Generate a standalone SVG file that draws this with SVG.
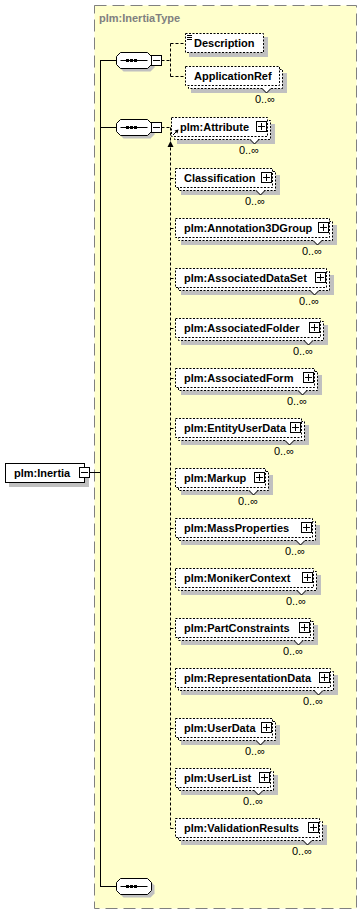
<svg xmlns="http://www.w3.org/2000/svg" width="363" height="915" viewBox="0 0 363 915">
<style>
.bg{fill:#ffffcc;stroke:#808080;stroke-width:1;stroke-dasharray:12,6}
.ttl{font-family:"Liberation Sans",Arial,sans-serif;font-weight:bold;font-size:11px;fill:#808080}
.t{font-family:"Liberation Sans",Arial,sans-serif;font-weight:bold;font-size:11px;fill:#000}
.m{font-family:"Liberation Sans",Arial,sans-serif;font-size:11px;fill:#000;text-anchor:end}
.sh{fill:#c0c0c0;stroke:none}
.fb{fill:#fff;stroke:#000;stroke-width:1;stroke-dasharray:2,1.5}
.sb{fill:#fff;stroke:#000;stroke-width:1}
.ln{stroke:#000;stroke-width:1;fill:none}
.dl{stroke:#000;stroke-width:1;fill:none;stroke-dasharray:3,2}
.ic{fill:#fff;stroke:#000;stroke-width:1}
.nf{fill:#fff;stroke:none}
</style>
<defs>
<path id="oct" d="M4,0 H31 L35,4 V12 L31,16 H4 L0,12 V4 Z"/>
<g id="seqin">
<line class="ln" x1="4" y1="8" x2="31" y2="8"/>
<rect x="9.5" y="6.5" width="3" height="3" fill="#000"/>
<rect x="13.5" y="6.5" width="3" height="3" fill="#000"/>
<rect x="17.5" y="6.5" width="3" height="3" fill="#000"/>
</g>
<g id="plus">
<rect class="ic" x="0" y="0" width="10" height="10"/>
<line class="ln" x1="1.5" y1="5" x2="8.5" y2="5"/>
<line class="ln" x1="5" y1="1.5" x2="5" y2="8.5"/>
</g>
<g id="minus">
<rect class="ic" x="0" y="0" width="10" height="10"/>
<line class="ln" x1="1.5" y1="5" x2="8.5" y2="5"/>
</g>
<g id="notch">
<polygon class="nf" points="-4,-0.5 4,-0.5 0,4"/>
<polyline class="ln" points="-4.5,0 0,4.5 4.5,0"/>
</g>
</defs>

<rect class="bg" x="94.5" y="5.5" width="262" height="903"/>
<text class="ttl" x="99" y="22">plm:InertiaType</text>

<g id="connectors">
<line class="ln" x1="89.5" y1="472.5" x2="100.5" y2="472.5"/>
<line class="ln" x1="100.5" y1="60.5" x2="100.5" y2="886.5"/>
<line class="ln" x1="100" y1="60.5" x2="116.5" y2="60.5"/>
<line class="ln" x1="100" y1="127.5" x2="116.5" y2="127.5"/>
<line class="ln" x1="100" y1="886.5" x2="116.5" y2="886.5"/>
<line class="dl" x1="161.5" y1="60.5" x2="170.5" y2="60.5"/>
<line class="dl" x1="170.5" y1="43.5" x2="170.5" y2="76.5"/>
<line class="dl" x1="170.5" y1="43.5" x2="185.5" y2="43.5"/>
<line class="dl" x1="170.5" y1="76.5" x2="185.5" y2="76.5"/>
<line class="dl" x1="161.5" y1="127.5" x2="171.5" y2="127.5"/>
<line class="dl" x1="170.5" y1="127.5" x2="170.5" y2="828.5"/>
<polygon points="170.5,141 167.5,147 173.5,147" fill="#000"/>
<line class="dl" x1="170.5" y1="178.5" x2="175.5" y2="178.5"/>
<line class="dl" x1="170.5" y1="228.5" x2="175.5" y2="228.5"/>
<line class="dl" x1="170.5" y1="278.5" x2="175.5" y2="278.5"/>
<line class="dl" x1="170.5" y1="328.5" x2="175.5" y2="328.5"/>
<line class="dl" x1="170.5" y1="378.5" x2="175.5" y2="378.5"/>
<line class="dl" x1="170.5" y1="428.5" x2="175.5" y2="428.5"/>
<line class="dl" x1="170.5" y1="478.5" x2="175.5" y2="478.5"/>
<line class="dl" x1="170.5" y1="528.5" x2="175.5" y2="528.5"/>
<line class="dl" x1="170.5" y1="578.5" x2="175.5" y2="578.5"/>
<line class="dl" x1="170.5" y1="628.5" x2="175.5" y2="628.5"/>
<line class="dl" x1="170.5" y1="678.5" x2="175.5" y2="678.5"/>
<line class="dl" x1="170.5" y1="728.5" x2="175.5" y2="728.5"/>
<line class="dl" x1="170.5" y1="778.5" x2="175.5" y2="778.5"/>
<line class="dl" x1="170.5" y1="828.5" x2="175.5" y2="828.5"/>
</g>

<g id="n-inertia">
<rect class="sh" x="9" y="467" width="80" height="20"/>
<rect class="sb" x="5.5" y="463.5" width="79" height="19"/>
<text class="t" x="14" y="477">plm:Inertia</text>
<use href="#minus" x="79.5" y="467.5"/>
</g>

<g id="seq1">
<use href="#oct" class="sh" x="119.5" y="55.5"/>
<use href="#oct" class="sb" x="116.5" y="52.5"/>
<use href="#seqin" x="116.5" y="52.5"/>
<use href="#minus" x="151.5" y="55.5"/>
</g>

<g id="seq2">
<use href="#oct" class="sh" x="119.5" y="122.5"/>
<use href="#oct" class="sb" x="116.5" y="119.5"/>
<use href="#seqin" x="116.5" y="119.5"/>
<use href="#minus" x="151.5" y="122.5"/>
</g>

<g id="seq3">
<use href="#oct" class="sh" x="119.5" y="881.5"/>
<use href="#oct" class="sb" x="116.5" y="878.5"/>
<use href="#seqin" x="116.5" y="878.5"/>
</g>

<g id="n-description">
<rect class="sh" x="189" y="37" width="79" height="20"/>
<rect class="fb" x="185.5" y="33.5" width="78" height="19"/>
<line class="ln" x1="187" y1="35.5" x2="192" y2="35.5"/>
<line class="ln" x1="187" y1="37.5" x2="192" y2="37.5"/>
<line class="ln" x1="187" y1="39.5" x2="192" y2="39.5"/>
<text class="t" x="194" y="47">Description</text>
</g>

<g id="n-applicationref">
<rect class="sh" x="191" y="73" width="96" height="20"/>
<rect class="fb" x="188.5" y="69.5" width="94" height="19"/>
<use href="#notch" x="266.5" y="88.5"/>
<rect class="fb" x="185.5" y="66.5" width="94" height="19"/>
<text class="t" x="194" y="80">ApplicationRef</text>
<text class="m" x="275" y="103">0..∞</text>
</g>

<g id="n-attribute">
<rect class="sh" x="177" y="124" width="98" height="20"/>
<rect class="fb" x="174.5" y="120.5" width="96" height="19"/>
<use href="#notch" x="254.5" y="139.5"/>
<rect class="fb" x="171.5" y="117.5" width="96" height="19"/>
<text class="t" x="180" y="131">plm:Attribute</text>
<use href="#plus" x="256.5" y="121.5"/>
<line class="ln" x1="173" y1="135" x2="176.5" y2="131.5"/>
<polygon points="178.5,129.5 174.5,130.5 177.5,133.5" fill="#000"/>
<text class="m" x="259" y="154">0..∞</text>
</g>

<g id="n-classification">
<rect class="sh" x="181" y="175" width="99" height="20"/>
<rect class="fb" x="178.5" y="171.5" width="97" height="19"/>
<use href="#notch" x="260.5" y="190.5"/>
<rect class="fb" x="175.5" y="168.5" width="97" height="19"/>
<text class="t" x="184" y="182">Classification</text>
<use href="#plus" x="261.5" y="172.5"/>
<text class="m" x="265" y="205">0..∞</text>
</g>

<g id="n-annotation3dgroup">
<rect class="sh" x="181" y="225" width="156" height="20"/>
<rect class="fb" x="178.5" y="221.5" width="154" height="19"/>
<use href="#notch" x="317.5" y="240.5"/>
<rect class="fb" x="175.5" y="218.5" width="154" height="19"/>
<text class="t" x="184" y="232">plm:Annotation3DGroup</text>
<use href="#plus" x="318.5" y="222.5"/>
<text class="m" x="322" y="255">0..∞</text>
</g>

<g id="n-associateddataset">
<rect class="sh" x="181" y="275" width="153" height="20"/>
<rect class="fb" x="178.5" y="271.5" width="151" height="19"/>
<use href="#notch" x="314.5" y="290.5"/>
<rect class="fb" x="175.5" y="268.5" width="151" height="19"/>
<text class="t" x="184" y="282">plm:AssociatedDataSet</text>
<use href="#plus" x="315.5" y="272.5"/>
<text class="m" x="319" y="305">0..∞</text>
</g>

<g id="n-associatedfolder">
<rect class="sh" x="181" y="325" width="147" height="20"/>
<rect class="fb" x="178.5" y="321.5" width="145" height="19"/>
<use href="#notch" x="308.5" y="340.5"/>
<rect class="fb" x="175.5" y="318.5" width="145" height="19"/>
<text class="t" x="184" y="332">plm:AssociatedFolder</text>
<use href="#plus" x="309.5" y="322.5"/>
<text class="m" x="313" y="355">0..∞</text>
</g>

<g id="n-associatedform">
<rect class="sh" x="181" y="375" width="141" height="20"/>
<rect class="fb" x="178.5" y="371.5" width="139" height="19"/>
<use href="#notch" x="302.5" y="390.5"/>
<rect class="fb" x="175.5" y="368.5" width="139" height="19"/>
<text class="t" x="184" y="382">plm:AssociatedForm</text>
<use href="#plus" x="303.5" y="372.5"/>
<text class="m" x="307" y="405">0..∞</text>
</g>

<g id="n-entityuserdata">
<rect class="sh" x="181" y="425" width="128" height="20"/>
<rect class="fb" x="178.5" y="421.5" width="126" height="19"/>
<use href="#notch" x="289.5" y="440.5"/>
<rect class="fb" x="175.5" y="418.5" width="126" height="19"/>
<text class="t" x="184" y="432">plm:EntityUserData</text>
<use href="#plus" x="290.5" y="422.5"/>
<text class="m" x="294" y="455">0..∞</text>
</g>

<g id="n-markup">
<rect class="sh" x="181" y="475" width="92" height="20"/>
<rect class="fb" x="178.5" y="471.5" width="90" height="19"/>
<use href="#notch" x="253.5" y="490.5"/>
<rect class="fb" x="175.5" y="468.5" width="90" height="19"/>
<text class="t" x="184" y="482">plm:Markup</text>
<use href="#plus" x="254.5" y="472.5"/>
<text class="m" x="258" y="505">0..∞</text>
</g>

<g id="n-massproperties">
<rect class="sh" x="181" y="525" width="139" height="20"/>
<rect class="fb" x="178.5" y="521.5" width="137" height="19"/>
<use href="#notch" x="300.5" y="540.5"/>
<rect class="fb" x="175.5" y="518.5" width="137" height="19"/>
<text class="t" x="184" y="532">plm:MassProperties</text>
<use href="#plus" x="301.5" y="522.5"/>
<text class="m" x="305" y="555">0..∞</text>
</g>

<g id="n-monikercontext">
<rect class="sh" x="181" y="575" width="140" height="20"/>
<rect class="fb" x="178.5" y="571.5" width="138" height="19"/>
<use href="#notch" x="301.5" y="590.5"/>
<rect class="fb" x="175.5" y="568.5" width="138" height="19"/>
<text class="t" x="184" y="582">plm:MonikerContext</text>
<use href="#plus" x="302.5" y="572.5"/>
<text class="m" x="306" y="605">0..∞</text>
</g>

<g id="n-partconstraints">
<rect class="sh" x="181" y="625" width="137" height="20"/>
<rect class="fb" x="178.5" y="621.5" width="135" height="19"/>
<use href="#notch" x="298.5" y="640.5"/>
<rect class="fb" x="175.5" y="618.5" width="135" height="19"/>
<text class="t" x="184" y="632">plm:PartConstraints</text>
<use href="#plus" x="299.5" y="622.5"/>
<text class="m" x="303" y="655">0..∞</text>
</g>

<g id="n-representationdata">
<rect class="sh" x="181" y="675" width="157" height="20"/>
<rect class="fb" x="178.5" y="671.5" width="155" height="19"/>
<use href="#notch" x="318.5" y="690.5"/>
<rect class="fb" x="175.5" y="668.5" width="155" height="19"/>
<text class="t" x="184" y="682">plm:RepresentationData</text>
<use href="#plus" x="319.5" y="672.5"/>
<text class="m" x="323" y="705">0..∞</text>
</g>

<g id="n-userdata">
<rect class="sh" x="181" y="725" width="99" height="20"/>
<rect class="fb" x="178.5" y="721.5" width="97" height="19"/>
<use href="#notch" x="260.5" y="740.5"/>
<rect class="fb" x="175.5" y="718.5" width="97" height="19"/>
<text class="t" x="184" y="732">plm:UserData</text>
<use href="#plus" x="261.5" y="722.5"/>
<text class="m" x="265" y="755">0..∞</text>
</g>

<g id="n-userlist">
<rect class="sh" x="181" y="775" width="97" height="20"/>
<rect class="fb" x="178.5" y="771.5" width="95" height="19"/>
<use href="#notch" x="258.5" y="790.5"/>
<rect class="fb" x="175.5" y="768.5" width="95" height="19"/>
<text class="t" x="184" y="782">plm:UserList</text>
<use href="#plus" x="259.5" y="772.5"/>
<text class="m" x="263" y="805">0..∞</text>
</g>

<g id="n-validationresults">
<rect class="sh" x="181" y="825" width="146" height="20"/>
<rect class="fb" x="178.5" y="821.5" width="144" height="19"/>
<use href="#notch" x="307.5" y="840.5"/>
<rect class="fb" x="175.5" y="818.5" width="144" height="19"/>
<text class="t" x="184" y="832">plm:ValidationResults</text>
<use href="#plus" x="308.5" y="822.5"/>
<text class="m" x="312" y="855">0..∞</text>
</g>
</svg>
